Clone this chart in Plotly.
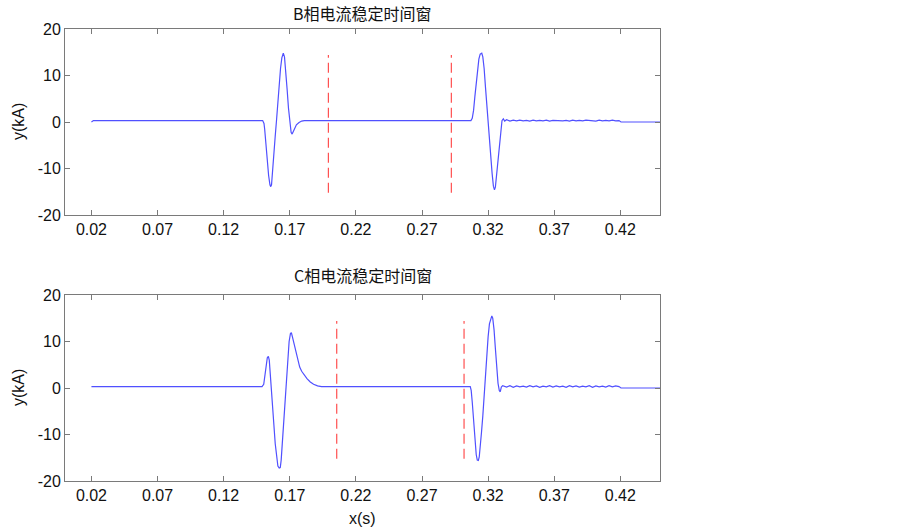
import plotly.graph_objects as go

# ---------------- data ----------------
# B phase current (kA) vs time (s)
b_t = [0.020, 0.0215, 0.1495, 0.1505, 0.151, 0.152, 0.153, 0.154, 0.155, 0.1556, 0.1562,
       0.157, 0.158, 0.159, 0.160, 0.161, 0.162, 0.163, 0.164, 0.1651, 0.166, 0.167,
       0.168, 0.169, 0.170, 0.171, 0.1718, 0.1725, 0.1735, 0.175, 0.177, 0.179, 0.181,
       0.3070, 0.308, 0.309, 0.310, 0.311, 0.312, 0.313, 0.314, 0.3152, 0.316, 0.317,
       0.318, 0.319, 0.320, 0.321, 0.322, 0.323, 0.324, 0.3248, 0.3255, 0.3265, 0.3275,
       0.3285, 0.3295, 0.3305, 0.3315, 0.3325]
b_i = [0.0, 0.3, 0.3, -0.3, -1.5, -5.0, -8.5, -11.5, -13.5, -13.9, -13.5,
       -11.0, -7.0, -3.0, 0.5, 4.5, 8.5, 11.5, 13.8, 14.8, 14.0, 11.0,
       7.0, 3.0, 0.0, -2.2, -2.6, -2.2, -1.3, -0.6, -0.1, 0.2, 0.3,
       0.3, 0.8, 2.5, 5.5, 8.5, 11.5, 13.5, 14.6, 14.8, 14.0, 11.5,
       7.5, 3.5, 0.5, -3.0, -7.0, -11.0, -13.8, -14.6, -14.0, -11.0, -7.5,
       -4.0, -1.2, 0.3, 0.7, 0.2]

# C phase current (kA) vs time (s)
c_t = [0.020, 0.149, 0.1503, 0.151, 0.152, 0.153, 0.1538, 0.1545, 0.155, 0.156, 0.157,
       0.158, 0.159, 0.160, 0.161, 0.162, 0.1628, 0.1635, 0.1645, 0.1655, 0.1665, 0.1675,
       0.1685, 0.1695, 0.1705, 0.1712, 0.172, 0.173, 0.174, 0.1755, 0.1775, 0.179, 0.181,
       0.183, 0.1855, 0.188, 0.191, 0.194,
       0.3065, 0.3072, 0.308, 0.309, 0.310, 0.311, 0.3118, 0.3126, 0.3133, 0.3142, 0.315,
       0.316, 0.317, 0.318, 0.319, 0.320, 0.321, 0.322, 0.3228, 0.3235, 0.3245, 0.3255,
       0.3265, 0.3275, 0.3285, 0.3292, 0.330, 0.331]
c_i = [0.3, 0.3, 0.8, 2.5, 5.0, 6.5, 6.8, 6.0, 4.0, 0.5, -3.5,
       -8.0, -12.0, -15.0, -16.8, -17.2, -17.1, -15.5, -11.5, -7.0, -2.5, 2.0,
       6.5, 10.0, 11.7, 11.9, 11.0, 9.8, 8.5, 6.5, 4.5, 3.6, 2.7,
       2.0, 1.3, 0.8, 0.45, 0.3,
       0.3, -0.5, -3.0, -7.5, -11.5, -14.3, -15.5, -15.6, -14.8, -12.5, -9.5,
       -6.0, -1.5, 3.0, 7.5, 11.0, 13.8, 15.2, 15.5, 15.0, 12.5, 8.5,
       4.5, 1.0, -0.6, -0.8, 0.2, 0.5]

# small post-fault ripple
ripple_t = [0.334, 0.3365, 0.339, 0.3415, 0.344, 0.3465, 0.349, 0.3515, 0.354, 0.3565,
            0.359, 0.3615, 0.364, 0.3665, 0.369, 0.3715, 0.374, 0.3765, 0.379, 0.3815,
            0.384, 0.3865, 0.389, 0.3915, 0.394, 0.3965, 0.399, 0.4015, 0.404, 0.4065,
            0.409, 0.4115, 0.414, 0.4165, 0.419]
b_ripple = [0.5, 0.2, 0.4, 0.25, 0.4, 0.25, 0.35, 0.2, 0.4, 0.25,
            0.35, 0.25, 0.4, 0.2, 0.35, 0.3, 0.4, 0.25, 0.35, 0.2,
            0.4, 0.25, 0.35, 0.25, 0.4, 0.3, 0.35, 0.2, 0.4, 0.25,
            0.35, 0.25, 0.4, 0.25, 0.3]
c_ripple = [0.2, 0.5, 0.15, 0.45, 0.25, 0.4, 0.2, 0.5, 0.25, 0.45,
            0.15, 0.4, 0.25, 0.5, 0.2, 0.45, 0.25, 0.4, 0.15, 0.5,
            0.25, 0.45, 0.2, 0.4, 0.25, 0.5, 0.15, 0.45, 0.25, 0.4,
            0.2, 0.5, 0.25, 0.45, 0.3]
tail_t = [0.4205, 0.45]
b_tail = [0.0, 0.0]
c_tail = [0.0, 0.0]

# stable time windows (s) and dashed marker extent (kA)
b_window = [0.1992, 0.2922]
c_window = [0.2055, 0.3018]
window_y = [-15.2, 14.4]

titles = ["B相电流稳定时间窗", "C相电流稳定时间窗"]
x_label = "x(s)"
y_label = "y(kA)"
x_ticks = [0.02, 0.07, 0.12, 0.17, 0.22, 0.27, 0.32, 0.37, 0.42]
x_tick_text = ["0.02", "0.07", "0.12", "0.17", "0.22", "0.27", "0.32", "0.37", "0.42"]
y_ticks = [-20, -10, 0, 10, 20]
y_tick_text = ["-20", "-10", "0", "10", "20"]

# ---------------- figure ----------------
BLUE = "#5050ff"
RED = "#ff5050"
AX = "#7a7a7a"
FONT = "Arial, Liberation Sans, sans-serif"

fig = go.Figure()

panels = [
    (b_t + ripple_t + tail_t, b_i + b_ripple + b_tail, b_window, "x", "y"),
    (c_t + ripple_t + tail_t, c_i + c_ripple + c_tail, c_window, "x2", "y2"),
]
for t, v, win, xa, ya in panels:
    fig.add_trace(go.Scatter(x=t, y=v, mode="lines", line=dict(color=BLUE, width=1.2),
                             xaxis=xa, yaxis=ya, showlegend=False, hoverinfo="skip"))
    for w in win:
        fig.add_trace(go.Scatter(x=[w, w], y=window_y, mode="lines",
                                 line=dict(color=RED, width=1.2, dash="10px,5px"),
                                 xaxis=xa, yaxis=ya, showlegend=False, hoverinfo="skip"))

# plot area spans page x 65..660, y 29..481
top_dom = [(481 - 215) / 452, 1.0]
bot_dom = [0.0, (481 - 295) / 452]

xcommon = dict(range=[0, 0.45], tickvals=x_ticks, ticktext=x_tick_text,
               ticks="inside", ticklen=5, tickcolor=AX, showline=True, linecolor=AX,
               linewidth=1, mirror="ticks", showgrid=False, zeroline=False,
               tickfont=dict(family=FONT, size=16, color="#111"))
ycommon = dict(range=[-20, 20], tickvals=y_ticks, ticktext=y_tick_text,
               ticks="inside", ticklen=5, tickcolor=AX,
               showline=True, linecolor=AX, linewidth=1, mirror="ticks", showgrid=False,
               zeroline=False, tickfont=dict(family=FONT, size=16, color="#111"))

fig.update_layout(
    width=903, height=530,
    margin=dict(l=65, r=243, t=29, b=49),
    paper_bgcolor="white", plot_bgcolor="white",
    xaxis=dict(xcommon, domain=[0, 1], anchor="y"),
    yaxis=dict(ycommon, domain=top_dom, anchor="x"),
    xaxis2=dict(xcommon, domain=[0, 1], anchor="y2"),
    yaxis2=dict(ycommon, domain=bot_dom, anchor="x2"),
)

ann = []
for title, ypix in zip(titles, [13, 275]):
    ann.append(dict(text=title, x=0.5, xref="paper", y=(481 - ypix) / 452, yref="paper",
                    xanchor="center", yanchor="middle", showarrow=False,
                    font=dict(family="Noto Sans CJK SC", size=16, color="#111")))
for ypix in [122, 388]:
    ann.append(dict(text=y_label, x=(18 - 65) / 595, xref="paper", y=(481 - ypix) / 452,
                    yref="paper", xanchor="center", yanchor="middle", textangle=-90,
                    showarrow=False, font=dict(family=FONT, size=16, color="#111")))
ann.append(dict(text=x_label, x=0.5, xref="paper", y=(481 - 518) / 452, yref="paper",
                xanchor="center", yanchor="middle", showarrow=False,
                font=dict(family=FONT, size=16, color="#111")))
fig.update_layout(annotations=ann)

fig.write_html("out.html", config={"displayModeBar": False},
               post_script="document.body.style.margin='0';document.body.style.overflow='hidden';")
